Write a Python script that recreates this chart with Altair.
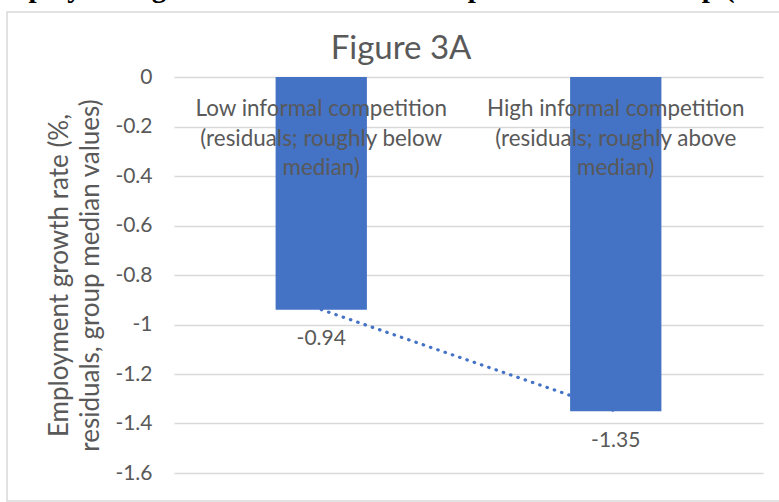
import altair as alt
import pandas as pd

# Chart content
categories = ["Low informal competition", "High informal competition"]
category_labels = [
    "Low informal competition\n(residuals; roughly below\nmedian)",
    "High informal competition\n(residuals; roughly above\nmedian)",
]
values = [-0.94, -1.35]
y_ticks = [0, -0.2, -0.4, -0.6, -0.8, -1, -1.2, -1.4, -1.6]
y_title = ["Employment growth rate (%,", "residuals, group median values)"]
chart_title = "Figure 3A"
doc_heading = "Employment growth and informal competition relationship (residuals)"

FONT = "Lato"
TEXT = "#595959"
BLUE = "#4472C4"
GRID = "#D9D9D9"

df = pd.DataFrame({
    "group": categories,
    "label": category_labels,
    "value": values,
    "value_text": [f"{v:.2f}" for v in values],
    "axis_zero": [0, 0],
})
single = pd.DataFrame({"k": [0]})

x_enc = alt.X(
    "group:N",
    sort=categories,
    scale=alt.Scale(paddingInner=0.69, paddingOuter=0.345),
    axis=None,
)
y_scale = alt.Scale(domain=[-1.6, 0], nice=False)
y_axis = alt.Axis(
    values=y_ticks,
    title=y_title,
    titleFont=FONT,
    titleFontSize=26,
    titleFontWeight="normal",
    titleColor=TEXT,
    titleAngle=270,
    titleX=-107,
    titleY=198,
    titleAlign="center",
    titleBaseline="alphabetic",
    titleLineHeight=31,
    labelFont=FONT,
    labelFontSize=21,
    labelColor=TEXT,
    labelPadding=22,
    labelExpr="replace(format(datum.value, '~g'), '\u2212', '-')",
    domain=False,
    ticks=False,
    grid=True,
    gridColor=GRID,
    gridWidth=1.5,
)


def y_enc(field):
    return alt.Y(field, type="quantitative", scale=y_scale, axis=y_axis)


base = alt.Chart(df)

# outer chart frame
frame = alt.Chart(single).mark_rect(
    filled=False, stroke=GRID, strokeWidth=1.5
).encode(
    x=alt.value(-167), x2=alt.value(630), y=alt.value(-65), y2=alt.value(424)
)

# document heading running above the chart frame
heading = alt.Chart(single).mark_text(
    font="Liberation Serif", fontWeight="bold", fontSize=29, color="black",
    align="left", baseline="alphabetic",
).encode(
    x=alt.value(-189), y=alt.value(-80.5), text=alt.value(doc_heading)
)

# chart title
title = alt.Chart(single).mark_text(
    font=FONT, fontSize=33, color=TEXT, align="center", baseline="alphabetic",
).encode(
    x=alt.value(227), y=alt.value(-18), text=alt.value(chart_title)
)

# dotted linear trend between the two group values
trend = base.mark_line(
    color=BLUE, strokeWidth=3.2, strokeDash=[0.5, 7.2], strokeCap="round"
).encode(x=x_enc, y=y_enc("value"))

bars = base.mark_bar(color=BLUE).encode(x=x_enc, y=y_enc("value"))

cat_text = base.mark_text(
    font=FONT, fontSize=22.4, color=TEXT, baseline="alphabetic",
    lineBreak="\n", lineHeight=29.5, dy=39,
).encode(x=x_enc, y=y_enc("axis_zero"), text="label:N")

val_text = base.mark_text(
    font=FONT, fontSize=21, color=TEXT, baseline="alphabetic", dy=35.5,
).encode(x=x_enc, y=y_enc("value"), text="value_text:N")

chart = alt.layer(frame, heading, title, trend, bars, cat_text, val_text).properties(
    width=589,
    height=396,
    padding={"left": 174, "top": 77, "right": 16, "bottom": 29},
    autosize=alt.AutoSizeParams(type="none"),
).configure_view(stroke=None)

chart.save("out.html", embed_options={"renderer": "svg", "actions": False})
